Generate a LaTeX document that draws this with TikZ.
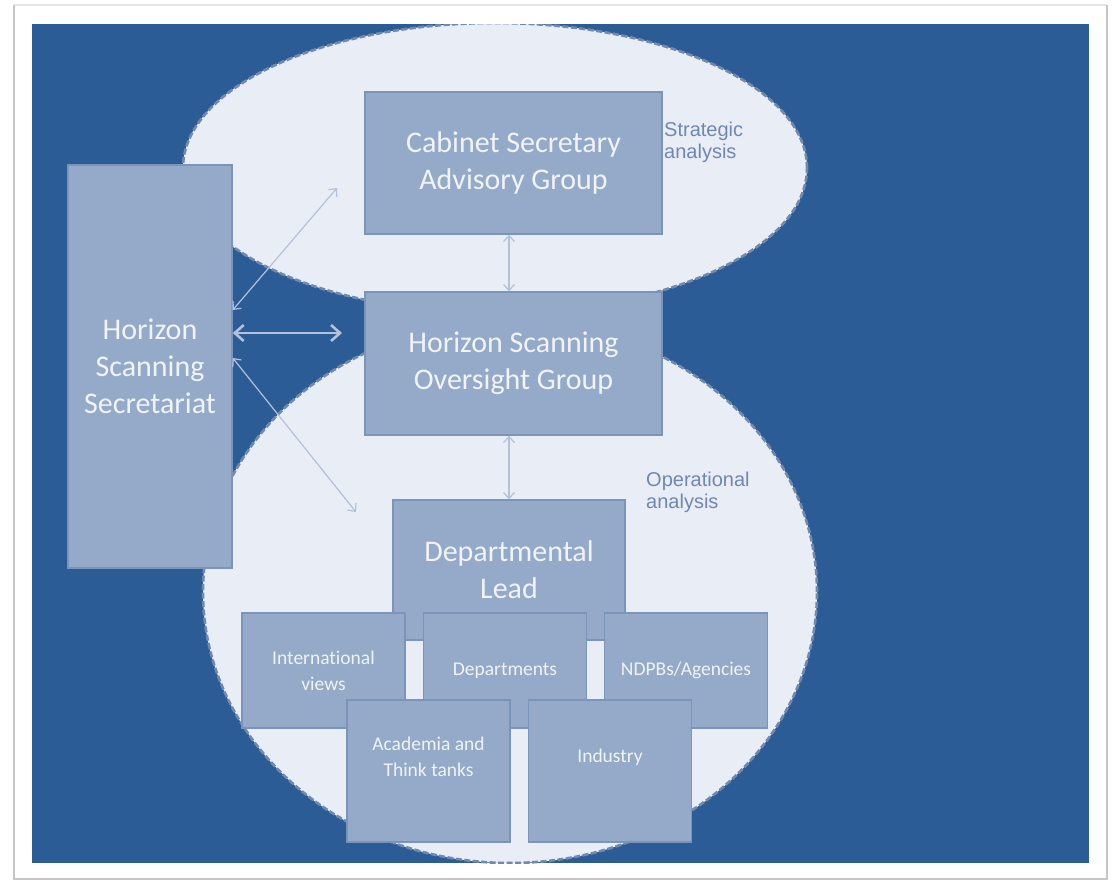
\documentclass[tikz,border=0pt]{standalone}
\usepackage{fontspec}
\setmainfont{Carlito}[Ligatures=NoCommon]
\newfontfamily\notefont{Liberation Sans}
\usepackage{tikz}
\usetikzlibrary{positioning,arrows.meta}

\definecolor{bgblue}{HTML}{2B5C95}
\definecolor{ovalfill}{HTML}{E9EDF5}
\definecolor{ovaldash}{HTML}{7189AE}
\definecolor{boxfill}{HTML}{94AAC8}
\definecolor{boxline}{HTML}{7A94BA}
\definecolor{boxtext}{HTML}{F0F3F8}
\definecolor{notetext}{HTML}{6F88B3}
\definecolor{linkcol}{HTML}{B3C2D8}

\tikzset{
  bigbox/.style={draw=boxline, fill=boxfill, line width=1.5pt, text=boxtext, align=center,
    inner sep=0pt, font=\fontsize{30}{37}\selectfont},
  smallbox/.style={bigbox, minimum width=163pt, font=\fontsize{19.5}{26}\selectfont},
  smalltxt/.style={text=boxtext, align=center, inner sep=0pt, font=\fontsize{19.5}{26}\selectfont},
  note/.style={anchor=north west, align=left, text=notetext, inner sep=0pt,
    font=\notefont\fontsize{20}{22}\selectfont},
  link/.style={draw=linkcol, line width=1.2pt,
    {Straight Barb[length=6pt,width=11pt]}-{Straight Barb[length=6pt,width=11pt]}},
  oval/.style={fill=ovalfill, draw=ovaldash, line width=2.6pt, dash pattern=on 6pt off 2.5pt}
}

\begin{document}
\begin{tikzpicture}[x=1pt, y=-1pt]
\useasboundingbox (0,0) rectangle (1114,881);
% Page and background
\fill[white] (0,0) rectangle (1114,881);
\draw[gray!20, line width=1.5pt] (14,5) -- (1107,5);
\draw[gray!45, line width=2.5pt] (14,5) -- (14,879) -- (1107,879) -- (1107,5);
\fill[bgblue] (32,24) rectangle (1089,863);

% Ovals
\begin{scope}
\clip (32,24) rectangle (1089,863);
\draw[oval] (495,168) ellipse [x radius=312pt, y radius=145pt];
\draw[oval] (510,592) ellipse [x radius=307pt, y radius=271pt];
\end{scope}

% Main boxes
\node[bigbox, minimum width=164pt, minimum height=403pt] (sec) at (150,366.5) {Horizon\\Scanning\\Secretariat};
\node[bigbox, minimum width=297pt, minimum height=142pt] (cab) at (513.5,163) {Cabinet Secretary\\Advisory Group};
\node[bigbox, minimum width=297pt, minimum height=143pt] (ovs) at (513.5,363.5) {Horizon Scanning\\Oversight Group};
\node[bigbox, minimum width=232pt, minimum height=140pt] (lead) at (509,570) {Departmental\\Lead};

% Sources
\node[smallbox, minimum height=115pt] (intl) at (323.5,670.5) {International\\views};
\node[smallbox, minimum height=115pt] (dept) at (505,670.5) {Departments};
\node[smallbox, minimum height=115pt] (ndpb) at (686,670.5) {NDPBs/Agencies};
\node[smallbox, minimum height=142pt, label={[smalltxt, yshift=14pt]center:{Academia and\\Think tanks}}] (acad) at (428.5,771) {};
\node[smallbox, minimum height=142pt, label={[smalltxt, yshift=14pt]center:Industry}] (ind) at (610,771) {};

% Notes
\node[note] (strat) at (664,122) {Strategic\\analysis};
\node[note] (oper) at (646,472) {Operational\\analysis};

% Links
\coordinate (t1) at (337,188);
\coordinate (t2) at (342,333);
\coordinate (t3) at (356,512);
\draw[link] ([yshift=56.5pt]sec.east) -- (t1);
\draw[link, line width=2.6pt, {Straight Barb[length=9pt,width=16pt]}-{Straight Barb[length=9pt,width=16pt]}] ([yshift=33.5pt]sec.east) -- (t2);
\draw[link] ([yshift=8.5pt]sec.east) -- (t3);
\draw[link] (cab.south -| lead.north) -- (ovs.north -| lead.north);
\draw[link] (ovs.south -| lead.north) -- (lead.north);
\end{tikzpicture}
\end{document}
